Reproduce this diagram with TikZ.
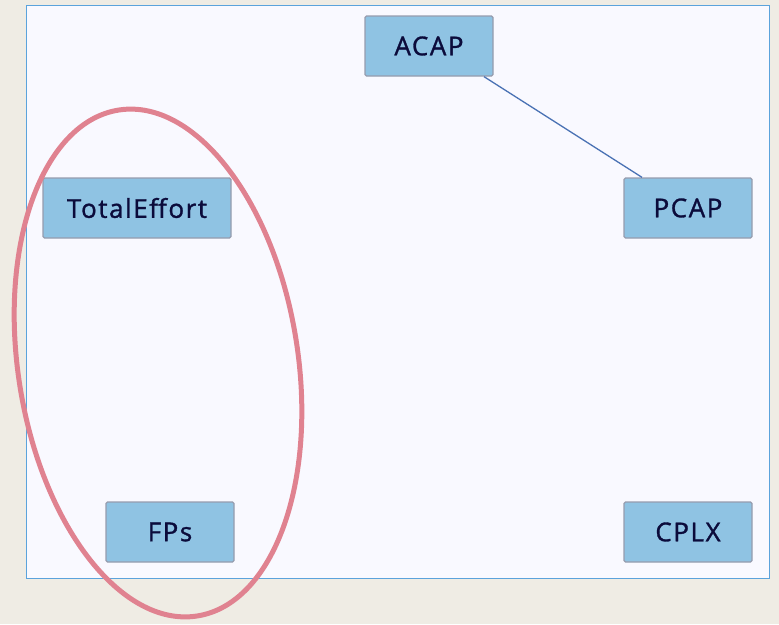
\documentclass[tikz,border=0pt]{standalone}
\usepackage{fontspec}
\setmainfont{Open Sans}
\newfontfamily\labelfont[FakeBold=1.2, LetterSpace=6]{Open Sans}
\definecolor{pagebg}{HTML}{EFECE4}
\definecolor{panelbg}{HTML}{F9F9FF}
\definecolor{panelline}{HTML}{5BA3DC}
\definecolor{boxfill}{HTML}{8FC3E3}
\definecolor{boxline}{HTML}{969CAE}
\definecolor{boxtext}{HTML}{0B0B3B}
\definecolor{linkcol}{HTML}{4A72B4}
\definecolor{ringcol}{HTML}{E08290}
\tikzset{
  px/.style={x=1pt,y=-1pt},
  varbox/.style={draw=boxline, line width=1.3pt, fill=boxfill, rounded corners=1.5pt,
    minimum height=60pt, inner sep=0pt, text=boxtext,
    font=\labelfont\fontsize{26}{30}\selectfont},
  link/.style={draw=linkcol, line width=1.3pt},
  ring/.style={draw=ringcol, line width=5pt}
}
\begin{document}
\begin{tikzpicture}[px]
  % page and panel
  \fill[pagebg] (0,0) rectangle (779,624);
  \useasboundingbox (0,0) rectangle (779,624);
  \draw[panelline, fill=panelbg, line width=1pt] (26.5,5.5) rectangle (769.5,578.5);

  % variables
  \node[varbox, minimum width=128pt] (acap) at (429,46) {ACAP};
  \node[varbox, minimum width=188pt] (total) at (137,208) {TotalEffort};
  \node[varbox, minimum width=128pt] (pcap) at (688,208) {PCAP};
  \node[varbox, minimum width=128pt] (fps) at (170,532) {FPs};
  \node[varbox, minimum width=128pt] (cplx) at (688,532) {CPLX};

  % link between the capability nodes
  \draw[link] (acap.south -| 484,0) -- (pcap.north -| 642,0);

  % grouping ring
  \draw[ring, rotate around={8.8:(158,363)}] (158,363) ellipse [x radius=140, y radius=256];
\end{tikzpicture}
\end{document}
